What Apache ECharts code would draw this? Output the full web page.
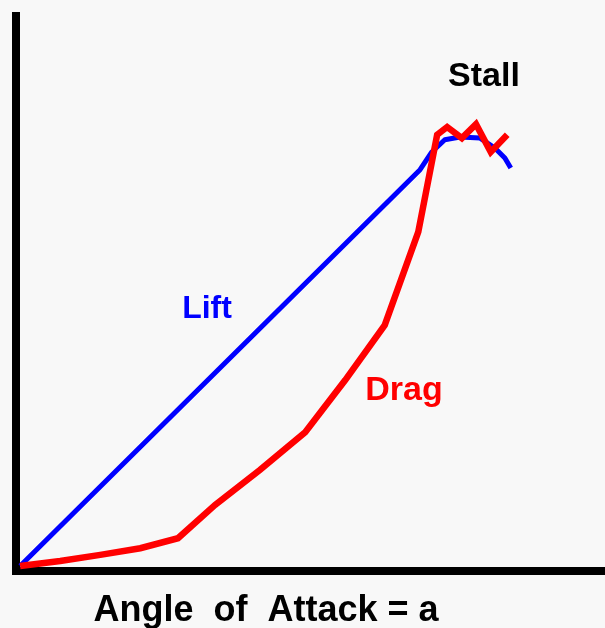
<!DOCTYPE html>
<html>
<head>
<meta charset="utf-8">
<script src="https://cdn.jsdelivr.net/npm/echarts@6/dist/echarts.min.js"></script>
<style>
html,body{margin:0;padding:0;background:#f8f8f8;}
#chart{width:605px;height:628px;}
</style>
</head>
<body>
<div id="chart"></div>
<script>
// Angle of attack (arbitrary units) and coefficients (arbitrary units)
var liftAngle = [0.7, 68.6, 70.6, 72.8, 75.4, 78.8, 81.3, 83.0, 84.0];
var liftValue = [0.9, 72.3, 75.5, 77.7, 78.2, 78.0, 76.2, 74.4, 72.6];
var dragAngle = [0.7, 7.5, 14.3, 21.1, 27.5, 33.8, 41.4, 49.1, 55.9, 62.6, 68.3, 71.5, 73.2, 75.7, 78.1, 80.6, 83.4];
var dragValue = [0.9, 1.8, 2.9, 4.1, 5.9, 11.9, 18.2, 25.0, 34.4, 44.3, 61.1, 78.6, 80.0, 78.0, 80.5, 75.5, 78.6];
var labels = {lift: 'Lift', drag: 'Drag', stall: 'Stall', xTitle: 'Angle  of  Attack = a'};

function pairs(xs, ys){ return xs.map(function(x,i){ return [x, ys[i]]; }); }

var chart = echarts.init(document.getElementById('chart'), null, {renderer:'canvas'});
var font = 'Liberation Sans, Arial, Helvetica, sans-serif';
chart.setOption({
  backgroundColor: '#f8f8f8',
  animation: false,
  grid: {left: 16, right: 0, top: 16, bottom: 57, containLabel: false},
  xAxis: {
    type: 'value', min: 0, max: 100,
    axisLine: {show: true, lineStyle: {color: '#000', width: 8, cap: 'square'}},
    axisTick: {show: false}, axisLabel: {show: false}, splitLine: {show: false}
  },
  yAxis: {
    type: 'value', min: 0, max: 100,
    axisLine: {show: true, lineStyle: {color: '#000', width: 8, cap: 'square'}},
    axisTick: {show: false}, axisLabel: {show: false}, splitLine: {show: false}
  },
  series: [
    {
      name: 'Lift', type: 'line', data: pairs(liftAngle, liftValue),
      showSymbol: false, smooth: false,
      lineStyle: {color: '#0000ff', width: 5, join: 'round'}, z: 2
    },
    {
      name: 'Drag', type: 'line', data: pairs(dragAngle, dragValue),
      showSymbol: false, smooth: false,
      lineStyle: {color: '#ff0000', width: 6.5, join: 'miter'}, z: 3
    }
  ],
  graphic: [
    {type:'text', z: 10, style:{text: labels.stall, font: 'bold 34px ' + font, fill:'#000', align:'center', verticalAlign:'middle'}, x: 484, y: 77},
    {type:'text', z: 10, style:{text: labels.lift, font: 'bold 32px ' + font, fill:'#0000ff', align:'center', verticalAlign:'middle'}, x: 207, y: 309},
    {type:'text', z: 10, style:{text: labels.drag, font: 'bold 34px ' + font, fill:'#ff0000', align:'center', verticalAlign:'middle'}, x: 404, y: 391},
    {type:'text', z: 10, style:{text: labels.xTitle, font: 'bold 36px ' + font, fill:'#000', align:'center', verticalAlign:'middle'}, x: 266, y: 611}
  ]
});
</script>
</body>
</html>
